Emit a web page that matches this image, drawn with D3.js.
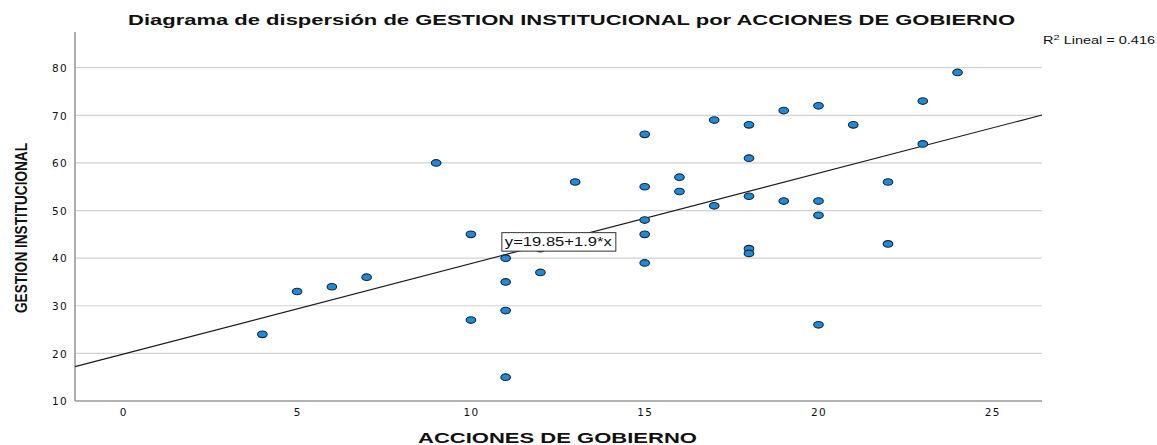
<!DOCTYPE html>
<html>
<head>
<meta charset="utf-8">
<script src="https://cdn.jsdelivr.net/npm/d3@7"></script>
<style>
  body { margin: 0; background: #fff; }
  svg { display: block; }
  text { font-family: "Liberation Sans", Arial, sans-serif; fill: #111; }
</style>
</head>
<body>
<script>
// ACCIONES DE GOBIERNO (x) and GESTION INSTITUCIONAL (y), one entry per case
var accionesGobierno = [4, 5, 6, 7, 9, 10, 10, 11, 11, 11, 11, 12, 12, 13,
  15, 15, 15, 15, 15, 16, 16, 17, 17, 18, 18, 18, 18, 18, 19, 19,
  20, 20, 20, 20, 21, 22, 22, 23, 23, 24];
var gestionInstitucional = [24, 33, 34, 36, 60, 45, 27, 40, 35, 29, 15, 42, 37, 56,
  66, 55, 48, 45, 39, 57, 54, 69, 51, 68, 61, 53, 42, 41, 71, 52,
  72, 52, 49, 26, 68, 56, 43, 73, 64, 79];

var xTicks = [0, 5, 10, 15, 20, 25];
var yTicks = [10, 20, 30, 40, 50, 60, 70, 80];

var intercept = 19.85;
var slope = 1.9;
var rSquared = 0.416;

var width = 1157, height = 445;
var plotLeft = 75, plotRight = 1042, plotTop = 32, plotBottom = 401;

var svg = d3.select('body').append('svg')
  .attr('width', width)
  .attr('height', height);

var x = d3.scaleLinear().domain([-1.39, 26.43]).range([plotLeft, plotRight]);
var y = d3.scaleLinear().domain([10, 87.5]).range([plotBottom, plotTop]);

// horizontal grid lines
svg.append('g')
  .selectAll('line')
  .data(yTicks.slice(1))
  .enter()
  .append('line')
  .attr('x1', plotLeft)
  .attr('x2', plotRight)
  .attr('y1', function(d){ return y(d); })
  .attr('y2', function(d){ return y(d); })
  .attr('stroke', '#d2d2d2')
  .attr('stroke-width', 1.2);

// axes
var yAxis = svg.append('g')
  .attr('transform', 'translate(' + plotLeft + ',0)')
  .call(d3.axisLeft(y).tickValues(yTicks).tickSize(0).tickPadding(7));
var xAxis = svg.append('g')
  .attr('transform', 'translate(0,' + plotBottom + ')')
  .call(d3.axisBottom(x).tickValues(xTicks).tickSize(0).tickPadding(7));

[xAxis, yAxis].forEach(function(g){
  g.select('.domain').attr('stroke', '#999').attr('stroke-width', 1.6);
  g.selectAll('text')
    .style('font-family', '"DejaVu Sans", Verdana, sans-serif')
    .style('font-size', '10.5px')
    .style('letter-spacing', '1.3px')
    .attr('fill', '#222');
});
yAxis.select('.domain').attr('d', 'M0,' + plotTop + 'V' + plotBottom);
xAxis.select('.domain').attr('d', 'M' + plotLeft + ',0H' + plotRight);
yAxis.selectAll('text').attr('dy', '0.35em');
xAxis.selectAll('text').attr('dy', '0.75em');

// fit line
var lineX = x.domain();
svg.append('line')
  .attr('x1', x(lineX[0]))
  .attr('y1', y(intercept + slope * lineX[0]))
  .attr('x2', x(lineX[1]))
  .attr('y2', y(intercept + slope * lineX[1]))
  .attr('stroke', '#1a1a1a')
  .attr('stroke-width', 1.2);

// points
svg.append('g')
  .selectAll('ellipse')
  .data(d3.range(accionesGobierno.length))
  .enter()
  .append('ellipse')
  .attr('cx', function(i){ return x(accionesGobierno[i]); })
  .attr('cy', function(i){ return y(gestionInstitucional[i]); })
  .attr('rx', 4.8)
  .attr('ry', 3.3)
  .attr('fill', '#1a8ce0')
  .attr('stroke', '#1c2430')
  .attr('stroke-width', 1.1);

// equation label
var eqX = 10.89, eqY = 45.36;
var eq = svg.append('g')
  .attr('transform', 'translate(' + x(eqX) + ',' + y(eqY) + ')');
eq.append('rect')
  .attr('width', 114)
  .attr('height', 18.5)
  .attr('fill', '#fff')
  .attr('stroke', '#333')
  .attr('stroke-width', 1);
eq.append('text')
  .attr('x', 3)
  .attr('y', 13.5)
  .attr('textLength', 107)
  .attr('lengthAdjust', 'spacingAndGlyphs')
  .style('font-size', '12.5px')
  .text('y=' + intercept + '+' + slope + '*x');

// title
svg.append('text')
  .attr('x', 128)
  .attr('y', 25)
  .attr('textLength', 887)
  .attr('lengthAdjust', 'spacingAndGlyphs')
  .style('font-size', '15.5px')
  .style('font-weight', 'bold')
  .text('Diagrama de dispersión de GESTION INSTITUCIONAL por ACCIONES DE GOBIERNO');

// R squared
var r2 = svg.append('text')
  .attr('x', 1043)
  .attr('y', 44)
  .attr('textLength', 112)
  .attr('lengthAdjust', 'spacingAndGlyphs')
  .style('font-size', '10.5px');
r2.append('tspan').text('R');
r2.append('tspan').attr('dy', -4).style('font-size', '8px').text('2');
r2.append('tspan').attr('dy', 4).text(' Lineal = ' + rSquared);

// axis titles
svg.append('text')
  .attr('x', 418)
  .attr('y', 443)
  .attr('textLength', 279)
  .attr('lengthAdjust', 'spacingAndGlyphs')
  .style('font-size', '15.5px')
  .style('font-weight', 'bold')
  .text('ACCIONES DE GOBIERNO');

svg.append('text')
  .attr('transform', 'translate(27,' + 228 + ') rotate(-90)')
  .attr('x', -85)
  .attr('y', 0)
  .attr('textLength', 170)
  .attr('lengthAdjust', 'spacingAndGlyphs')
  .style('font-size', '16.5px')
  .style('font-weight', 'bold')
  .text('GESTION INSTITUCIONAL');
</script>
</body>
</html>
